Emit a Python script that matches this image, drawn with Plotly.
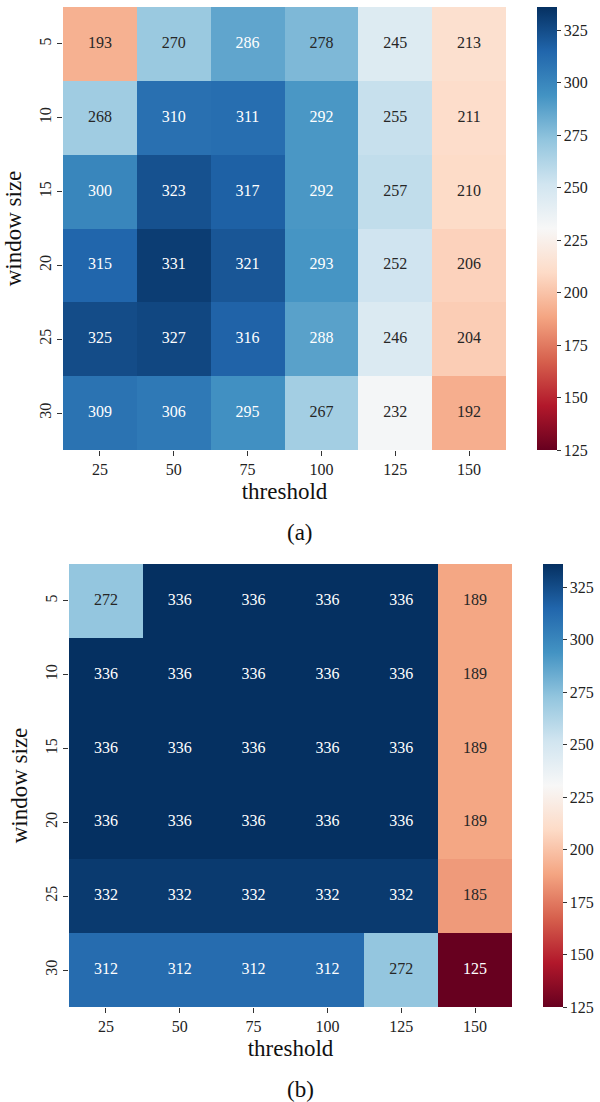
import plotly.graph_objects as go
import plotly.colors as pc

thresholds = ["25", "50", "75", "100", "125", "150"]
window_sizes = ["5", "10", "15", "20", "25", "30"]

values_a = [
    [193, 270, 286, 278, 245, 213],
    [268, 310, 311, 292, 255, 211],
    [300, 323, 317, 292, 257, 210],
    [315, 331, 321, 293, 252, 206],
    [325, 327, 316, 288, 246, 204],
    [309, 306, 295, 267, 232, 192],
]
values_b = [
    [272, 336, 336, 336, 336, 189],
    [336, 336, 336, 336, 336, 189],
    [336, 336, 336, 336, 336, 189],
    [336, 336, 336, 336, 336, 189],
    [332, 332, 332, 332, 332, 185],
    [312, 312, 312, 312, 272, 125],
]
cbar_ticks = [125, 150, 175, 200, 225, 250, 275, 300, 325]
ZMIN, ZMAX = 125, 336

FONT = "Liberation Serif, Times New Roman, Times, serif"
W, H = 600, 1102

# matplotlib RdBu (ColorBrewer 11-class)
rdbu_hex = ["#67001f", "#b2182b", "#d6604d", "#f4a582", "#fddbc7", "#f7f7f7",
            "#d1e5f0", "#92c5de", "#4393c3", "#2166ac", "#053061"]
rdbu_rgb = [pc.hex_to_rgb(h) for h in rdbu_hex]
colorscale = [[i / 10, h] for i, h in enumerate(rdbu_hex)]


def color_at(v):
    t = (v - ZMIN) / (ZMAX - ZMIN)
    t = min(max(t, 0), 1) * 10
    i = min(int(t), 9)
    f = t - i
    a, b = rdbu_rgb[i], rdbu_rgb[i + 1]
    return [(a[k] + (b[k] - a[k]) * f) / 255 for k in range(3)]


def lum(rgb):
    lin = [c / 12.92 if c <= 0.03928 else ((c + 0.055) / 1.055) ** 2.4 for c in rgb]
    return 0.2126 * lin[0] + 0.7152 * lin[1] + 0.0722 * lin[2]


def px(y):
    return 1 - y / H


fig = go.Figure()

panels = [
    dict(z=values_a, xd=[63 / W, 506 / W], yd=[px(450), px(7)], cbx=537 / W,
         cby=px(228.5), ax="", label="(a)", ly=px(532)),
    dict(z=values_b, xd=[69 / W, 512 / W], yd=[px(1007), px(564)], cbx=543 / W,
         cby=px(785.5), ax="2", label="(b)", ly=px(1089)),
]

for p in panels:
    xa = "x" + p["ax"]
    ya = "y" + p["ax"]
    fig.add_trace(go.Heatmap(
        z=p["z"], x=thresholds, y=window_sizes, xaxis=xa, yaxis=ya,
        colorscale=colorscale, zmin=ZMIN, zmax=ZMAX,
        colorbar=dict(x=p["cbx"], xanchor="left", xpad=0, ypad=0,
                      y=p["cby"], yanchor="middle", len=443 / H, lenmode="fraction",
                      thickness=20, outlinewidth=0, tickvals=cbar_ticks,
                      ticks="outside", ticklen=4, tickcolor="#333",
                      tickfont=dict(family=FONT, size=16, color="#222")),
        hoverinfo="skip",
    ))
    xs, ys, txt, cols = [], [], [], []
    for i, ws in enumerate(window_sizes):
        for j, th in enumerate(thresholds):
            v = p["z"][i][j]
            xs.append(th)
            ys.append(ws)
            txt.append(str(v))
            cols.append("#262626" if lum(color_at(v)) > 0.408 else "#ffffff")
    fig.add_trace(go.Scatter(
        x=xs, y=ys, text=txt, mode="text", xaxis=xa, yaxis=ya,
        textfont=dict(family=FONT, size=16, color=cols),
        showlegend=False, hoverinfo="skip",
    ))
    axis_common = dict(showgrid=False, zeroline=False, showline=False,
                       ticks="outside", ticklen=5, tickcolor="#333",
                       tickfont=dict(family=FONT, size=16, color="#222"))
    fig.update_layout(**{
        ("xaxis" + p["ax"]): dict(type="category", domain=p["xd"], anchor=ya,
                                  title=dict(text="threshold", standoff=5,
                                             font=dict(family=FONT, size=23, color="#111")),
                                  **axis_common),
        ("yaxis" + p["ax"]): dict(type="category", domain=p["yd"], anchor=xa,
                                  autorange="reversed", tickangle=-90,
                                  title=dict(text="window size", standoff=8,
                                             font=dict(family=FONT, size=23, color="#111")),
                                  **axis_common),
    })
    fig.add_annotation(text=p["label"], x=0.5, y=p["ly"], xref="paper", yref="paper",
                       xanchor="center", yanchor="middle", showarrow=False,
                       font=dict(family=FONT, size=23, color="#111"))

fig.update_layout(width=W, height=H,
                  margin=dict(l=0, r=0, t=0, b=0, autoexpand=False),
                  plot_bgcolor="white", paper_bgcolor="white", showlegend=False)

fig.write_html("out.html", config={"displayModeBar": False},
               post_script="document.body.style.margin='0px';document.body.style.padding='0px';")
